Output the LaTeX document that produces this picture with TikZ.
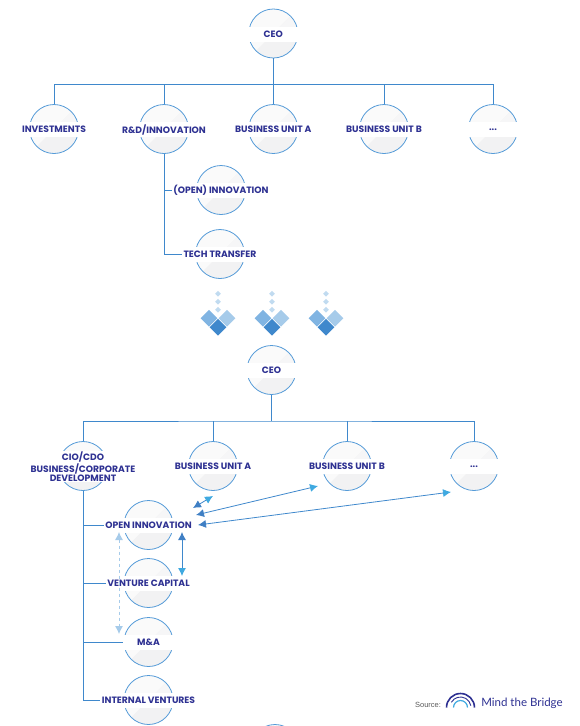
\documentclass[tikz,border=0pt]{standalone}
\usepackage{fontspec}
\setmainfont{Poppins}
\newfontfamily\sourcefont{Liberation Sans}
\newfontfamily\logofont{Lato}
\usepackage{tikz}
\usetikzlibrary{positioning}
\usetikzlibrary{shapes.geometric}
\usetikzlibrary{arrows.meta}
\usepackage{xcolor}

\definecolor{linkblue}{HTML}{3F88CC}
\definecolor{ringblue}{HTML}{559BD8}
\definecolor{tipdark}{HTML}{3F7FC4}
\definecolor{tiplight}{HTML}{3FA9E0}
\definecolor{dashblue}{HTML}{A6CBEA}
\definecolor{labelblue}{HTML}{2E3192}
\definecolor{discgray}{HTML}{F2F2F3}
\definecolor{discpale}{HTML}{F6F6F7}

\tikzset{
  orgcircle/.style={circle, draw=ringblue, line width=0.8pt, fill=white!98!black,
    minimum size=49, inner sep=0pt,
    path picture={
      \fill[discgray] (path picture bounding box.center) ++(-30,30) -- ++(60,-60) -- ++(0,60) -- cycle;
      \fill[discpale] (path picture bounding box.center) ++(0,0) -- ++(30,-30) -- ++(0,30) -- cycle;
    }},
  orgtext/.style={fill=white, inner ysep=0pt, inner xsep=1.5pt, minimum height=15, minimum width=52,
    yshift=-0.6pt, text=labelblue, font=\fontsize{9.2}{9.2}\selectfont\bfseries, align=center},
  orgline/.style={draw=linkblue, line width=0.8pt},
  swaparrow/.style={draw=linkblue, line width=0.8pt,
    {Latex[length=8pt,width=8pt,color=tipdark]}-{Latex[length=8pt,width=8pt,color=tiplight]}},
  softarrow/.style={draw=dashblue, line width=0.8pt, dashed,
    {Latex[length=8pt,width=8pt]}-{Latex[length=8pt,width=8pt]}, color=dashblue},
  dotsq/.style={diamond, fill=#1, minimum size=6, inner sep=0pt},
  bigsq/.style={diamond, fill=#1, minimum size=17, inner sep=0pt},
}

\begin{document}
\begin{tikzpicture}[x=1pt, y=-1pt]
    \useasboundingbox (0,0) rectangle (579,726);

    % Current structure
    \node[orgcircle] (ceoA) at (273.3,33.5) {};
    \foreach \name/\xpos in {inv/54, rnd/164, unitA/273.3, unitB/384, moreA/493}
      \node[orgcircle] (\name) at (\xpos,129) {};
    \node[orgcircle] (openA) at (221,190) {};
    \node[orgcircle] (tech) at (220,254) {};
    \coordinate (railA) at (273.3,84.4);

    \draw[orgline] (ceoA.south) -- (unitA.north);
    \draw[orgline] (inv.north) |- (railA) -| (moreA.north);
    \draw[orgline] (rnd.north) -- (rnd.north |- railA);
    \draw[orgline] (unitB.north) -- (unitB.north |- railA);
    \draw[orgline] (rnd.south) |- (openA.west);
    \draw[orgline] (rnd.south) |- (tech.west);

    \node[orgtext] (ceoA-t) at (ceoA) {CEO};
    \node[orgtext] (inv-t) at (inv) {INVESTMENTS};
    \node[orgtext] (rnd-t) at (rnd) {R\&D/INNOVATION};
    \node[orgtext] (unitA-t) at (unitA) {BUSINESS UNIT A};
    \node[orgtext] (unitB-t) at (unitB) {BUSINESS UNIT B};
    \node[orgtext] (moreA-t) at (moreA) {...};
    \node[orgtext] (openA-t) at (openA) {(OPEN) INNOVATION};
    \node[orgtext] (tech-t) at (tech) {TECH TRANSFER};

    % Transition marks
    \foreach \i/\xpos in {1/218, 2/272, 3/326} {
      \node[dotsq=dashblue!70] (dotA\i) at (\xpos,293.7) {};
      \node[dotsq=dashblue!70] (dotB\i) at (\xpos,301.7) {};
      \node[dotsq=dashblue!70] (dotC\i) at (\xpos,309.7) {};
      \node[bigsq=ringblue!75] (left\i) at (\xpos-9,318.3) {};
      \node[bigsq=dashblue] (right\i) at (\xpos+9,318.3) {};
      \node[bigsq=linkblue] (low\i) at (\xpos,327.3) {};
    }

    % New structure
    \node[orgcircle] (ceoB) at (271.5,370) {};
    \node[orgcircle] (cio) at (83,466) {};
    \node[orgcircle] (busA) at (213,466) {};
    \node[orgcircle] (busB) at (347,466) {};
    \node[orgcircle] (moreB) at (474,466) {};
    \foreach \name/\ypos in {openB/525, venture/583, mna/642, internal/700}
      \node[orgcircle] (\name) at (148.5,\ypos) {};
    \node[orgcircle] (cutoff) at (275,749) {};
    \coordinate (railB) at (271.5,421);

    \draw[orgline] (ceoB.south) -- (railB);
    \draw[orgline] (cio.north) |- (railB) -| (moreB.north);
    \draw[orgline] (busA.north) -- (busA.north |- railB);
    \draw[orgline] (busB.north) -- (busB.north |- railB);
    \draw[orgline] (cio.south) |- (openB.west);
    \draw[orgline] (cio.south) |- (venture.west);
    \draw[orgline] (cio.south) |- (mna.west);
    \draw[orgline] (cio.south) |- (internal.west);

    \node[orgtext] (ceoB-t) at (ceoB) {CEO};
    \node[orgtext, inner ysep=0.5pt] (cio-t) at (cio) {CIO/CDO\\BUSINESS/CORPORATE\\DEVELOPMENT};
    \node[orgtext] (busA-t) at (busA) {BUSINESS UNIT A};
    \node[orgtext] (busB-t) at (busB) {BUSINESS UNIT B};
    \node[orgtext] (moreB-t) at (moreB) {...};
    \node[orgtext] (openB-t) at (openB) {OPEN INNOVATION};
    \node[orgtext] (venture-t) at (venture) {VENTURE CAPITAL};
    \node[orgtext] (mna-t) at (mna) {M\&A};
    \node[orgtext] (internal-t) at (internal) {INTERNAL VENTURES};

    % Exchanges
    \coordinate (swapA) at (193,508);
    \coordinate (swapB) at (196,515);
    \coordinate (swapC) at (198,525);
    \coordinate (swapD) at (182,532);
    \coordinate (swapE) at (119,532);
    \coordinate (toA) at (213,496);
    \coordinate (toB) at (318,486);
    \coordinate (toC) at (451,492);
    \coordinate (toD) at (182,576);
    \coordinate (toE) at (119,634);
    \draw[swaparrow] (swapA) -- (toA);
    \draw[swaparrow] (swapB) -- (toB);
    \draw[swaparrow] (swapC) -- (toC);
    \draw[swaparrow] (swapD) -- (toD);
    \draw[softarrow] (swapE) -- (toE);

    % Source
    \node[font=\sourcefont\fontsize{7.5}{8}\selectfont, text=black!65] (source) at (428,704.5) {Source:};
    \coordinate (arcfoot) at (446.5,707.5);
    \draw[labelblue, line width=1.6pt] (arcfoot) arc[start angle=180, end angle=360, radius=14];
    \coordinate (arcmid) at (451.4,702.25);
    \draw[labelblue, line width=0.9pt] (arcmid) arc[start angle=210, end angle=350, radius=10.5];
    \coordinate (arcinner) at (453.5,707.5);
    \draw[tiplight, line width=1.2pt] (arcinner) arc[start angle=180, end angle=360, radius=7];
    \node[font=\logofont\fontsize{11.5}{12}\selectfont, text=labelblue] (logo) at (522,703) {Mind the Bridge};
\end{tikzpicture}
\end{document}
